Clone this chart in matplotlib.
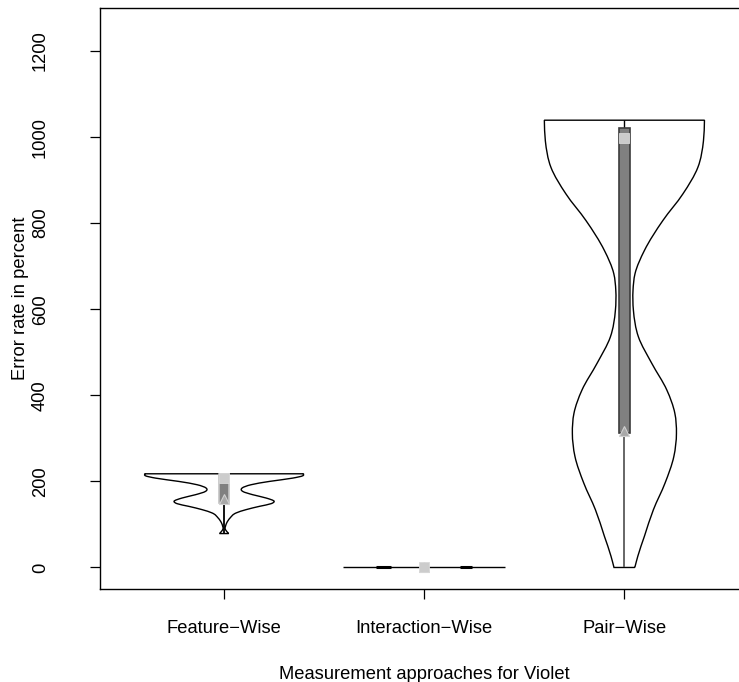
import matplotlib
matplotlib.use("Agg")
import matplotlib.pyplot as plt
from matplotlib.path import Path
from matplotlib.patches import PathPatch, Rectangle
import numpy as np

plt.rcParams['font.family'] = ['Liberation Sans', 'DejaVu Sans']

# ---- data -------------------------------------------------------------
categories = ["Feature\u2212Wise", "Interaction\u2212Wise", "Pair\u2212Wise"]

# violin outlines: level (error rate) and half-width of the violin at that level
feature_levels = [78.8, 85.7, 90.3, 95.7, 103.5, 115.1, 126.7, 134.4, 142.1, 148.3,
                  153.7, 161.4, 169.1, 176.8, 184.6, 192.3, 200.0, 207.7, 213.1, 217.7]
feature_halfwidth = [0.023, 0.010, 0.005, 0.007, 0.013, 0.030, 0.060, 0.110, 0.177, 0.235,
                     0.250, 0.210, 0.143, 0.093, 0.090, 0.135, 0.227, 0.343, 0.393, 0.397]

interaction_levels = [0.0]
interaction_halfwidth = [0.405]
interaction_dense_spans = [(-0.24, -0.165), (0.177, 0.24)]

pair_levels = [0.0, 26.2, 72.6, 134.4, 196.1, 257.9, 311.9, 358.3, 412.3, 474.1,
               535.9, 597.6, 644.0, 682.6, 736.6, 806.1, 867.9, 929.7, 991.4, 1039.3]
pair_halfwidth = [0.052, 0.067, 0.100, 0.145, 0.203, 0.247, 0.260, 0.252, 0.212, 0.137,
                  0.070, 0.045, 0.043, 0.053, 0.100, 0.192, 0.292, 0.367, 0.395, 0.400]

# box / whisker summaries
box_low = [150.0, 0.0, 312.0]
box_high = [218.0, 0.0, 1022.0]
whisker_low = [79.0, 0.0, 0.0]
whisker_high = [218.0, 0.0, 1039.3]
medians = [207.7, 0.0, 999.0]
lower_marks = [159.0, 0.0, 318.0]

yticks = [0, 200, 400, 600, 800, 1000, 1200]


# ---- helpers ----------------------------------------------------------
def hermite_segments(ys, xs):
    """Bezier segments of a C1 cubic Hermite curve x(y) through (xs, ys)."""
    ys = np.asarray(ys, dtype=float)
    xs = np.asarray(xs, dtype=float)
    h = np.diff(ys)
    d = np.diff(xs) / h
    n = len(ys)
    m = np.empty(n)
    m[0], m[-1] = d[0], d[-1]
    for i in range(1, n - 1):
        m[i] = (d[i - 1] * h[i] + d[i] * h[i - 1]) / (h[i - 1] + h[i])
    verts, codes = [], []
    for i in range(n - 1):
        c1 = (xs[i] + m[i] * h[i] / 3.0, ys[i] + h[i] / 3.0)
        c2 = (xs[i + 1] - m[i + 1] * h[i] / 3.0, ys[i + 1] - h[i] / 3.0)
        verts += [c1, c2, (xs[i + 1], ys[i + 1])]
        codes += [Path.CURVE4] * 3
    return verts, codes


def violin_path(center, levels, halfwidth):
    levels = np.asarray(levels, dtype=float)
    hw = np.asarray(halfwidth, dtype=float)
    verts = [(center + hw[0], levels[0])]
    codes = [Path.MOVETO]
    v, c = hermite_segments(levels, center + hw)
    verts += v
    codes += c
    verts.append((center - hw[-1], levels[-1]))
    codes.append(Path.LINETO)
    v, c = hermite_segments(levels[::-1], (center - hw)[::-1])
    verts += v
    codes += c
    verts.append((center + hw[0], levels[0]))
    codes.append(Path.LINETO)
    return Path(verts, codes)


# ---- figure -----------------------------------------------------------
fig = plt.figure(figsize=(7.39, 6.82), dpi=100)
ax = fig.add_axes([100 / 739, 93 / 682, 648.5 / 739, 581 / 682])
ax.set_xlim(0.38, 3.62)
ax.set_ylim(-50, 1300)

profiles = [(feature_levels, feature_halfwidth),
            (interaction_levels, interaction_halfwidth),
            (pair_levels, pair_halfwidth)]

for i, (levels, hw) in enumerate(profiles):
    c = i + 1
    if len(levels) > 1:
        ax.add_patch(PathPatch(violin_path(c, levels, hw), facecolor='none',
                               edgecolor='black', lw=1.0, zorder=2))
    else:
        ax.plot([c - hw[0], c + hw[0]], [levels[0], levels[0]], color='black',
                lw=1.0, zorder=2, solid_capstyle='butt')

for a, b in interaction_dense_spans:
    ax.plot([2 + a, 2 + b], [interaction_levels[0]] * 2, color='black', lw=2.2,
            zorder=2, solid_capstyle='butt')

box_half = 0.027
box_edges = ['#c4c4c4', '#9a9a9a', '#3c3c3c']
whisker_colors = ['black', '#6e6e6e', '#5a5a5a']
for i in range(3):
    c = i + 1
    # lower whisker
    if box_low[i] > whisker_low[i]:
        ax.plot([c, c], [whisker_low[i], box_low[i]], color=whisker_colors[i],
                lw=1.3, zorder=3, solid_capstyle='butt')
    # upper whisker
    if whisker_high[i] > box_high[i]:
        ax.plot([c, c], [box_high[i], whisker_high[i]], color='black',
                lw=1.0, zorder=3, solid_capstyle='butt')
    if box_high[i] > box_low[i]:
        ax.add_patch(Rectangle((c - box_half, box_low[i]), 2 * box_half,
                               box_high[i] - box_low[i], facecolor='#808080',
                               edgecolor=box_edges[i], lw=1.2, zorder=4))
    ax.plot(c, lower_marks[i], marker='^', markersize=7, color='#a8a8a8',
            markeredgecolor='#d0d0d0', markeredgewidth=0.8, zorder=5)
    ax.plot(c, medians[i], marker='s', markersize=6.5, color='#cccccc',
            markeredgecolor='#d8d8d8', markeredgewidth=0.6, zorder=6)

# axes styling
ax.set_xticks([1, 2, 3])
ax.set_xticklabels(categories)
ax.set_yticks(yticks)
ax.set_yticklabels([str(t) for t in yticks])
ax.tick_params(axis='both', length=7.2, width=0.9, labelsize=13.2, color='black')
ax.tick_params(axis='x', pad=15)
ax.tick_params(axis='y', pad=29.5)
for lab in ax.get_yticklabels():
    lab.set_rotation(90)
    lab.set_va('center')
for sp in ax.spines.values():
    sp.set_linewidth(1.0)

ax.set_xlabel("Measurement approaches for Violet", fontsize=13.2, labelpad=21)
ax.set_ylabel("Error rate in percent", fontsize=13.2, labelpad=2)

fig.savefig("out.png", dpi=100)
